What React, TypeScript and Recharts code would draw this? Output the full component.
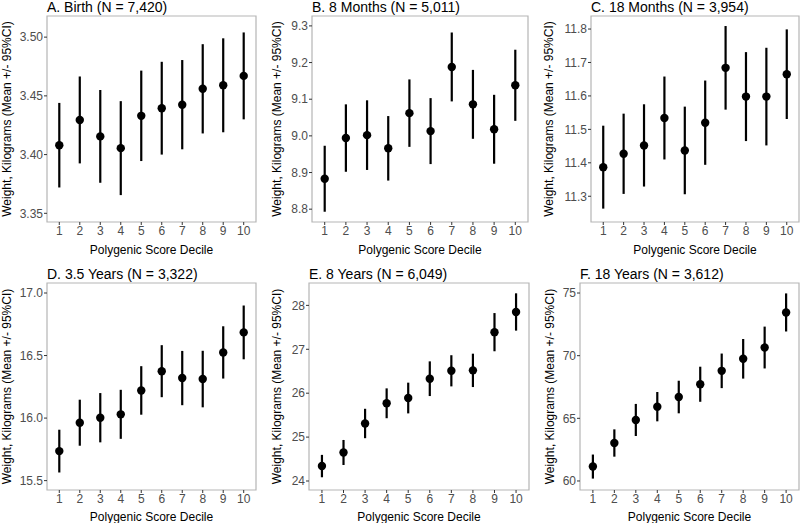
import { ScatterChart, Scatter, XAxis, YAxis, ErrorBar, ReferenceArea } from 'recharts';

const FONT = '"Liberation Sans", Arial, sans-serif';
const Y_TITLE = 'Weight, Kilograms (Mean +/- 95%CI)';
const X_TITLE = 'Polygenic Score Decile';

const deciles = [1, 2, 3, 4, 5, 6, 7, 8, 9, 10];

// A. Birth
const birthMean = [3.408, 3.4295, 3.4155, 3.4055, 3.433, 3.4395, 3.4425, 3.456, 3.459, 3.467];
const birthCi = [0.036, 0.037, 0.0395, 0.04, 0.0385, 0.0395, 0.038, 0.038, 0.04, 0.037];
const birthTicks = [3.35, 3.4, 3.45, 3.5];

// B. 8 months
const m8Mean = [8.883, 8.994, 9.002, 8.966, 9.062, 9.013, 9.188, 9.086, 9.018, 9.138];
const m8Ci = [0.09, 0.092, 0.095, 0.088, 0.092, 0.09, 0.094, 0.094, 0.094, 0.097];
const m8Ticks = [8.8, 8.9, 9.0, 9.1, 9.2, 9.3];

// C. 18 months
const m18Mean = [11.387, 11.427, 11.452, 11.534, 11.437, 11.52, 11.684, 11.598, 11.598, 11.665];
const m18Ci = [0.124, 0.12, 0.123, 0.124, 0.131, 0.126, 0.125, 0.133, 0.146, 0.134];
const m18Ticks = [11.3, 11.4, 11.5, 11.6, 11.7, 11.8];

// D. 3.5 years
const y35Mean = [15.736, 15.963, 16.003, 16.03, 16.221, 16.375, 16.32, 16.312, 16.525, 16.685];
const y35Ci = [0.171, 0.184, 0.197, 0.196, 0.194, 0.208, 0.217, 0.226, 0.209, 0.215];
const y35Ticks = [15.5, 16.0, 16.5, 17.0];

// E. 8 years
const y8Mean = [24.34, 24.65, 25.31, 25.77, 25.89, 26.33, 26.51, 26.52, 27.39, 27.85];
const y8Ci = [0.255, 0.285, 0.335, 0.34, 0.35, 0.395, 0.355, 0.38, 0.435, 0.425];
const y8Ticks = [24, 25, 26, 27, 28];

// F. 18 years
const y18Mean = [61.15, 63.03, 64.87, 65.93, 66.7, 67.72, 68.79, 69.75, 70.65, 73.45];
const y18Ci = [0.96, 1.09, 1.28, 1.17, 1.3, 1.4, 1.38, 1.58, 1.67, 1.52];
const y18Ticks = [60, 65, 70, 75];

const rows = (mean: number[], ci: number[]) =>
  deciles.map((d, i) => ({ decile: d, mean: mean[i], ci: ci[i] }));

const Dot = (p: any) => <circle cx={p.cx} cy={p.cy} r={4.2} fill="#000" />;

function Panel({ title, mean, ci, ticks, domain, digits, left, top, width, height, box, yTitleX, titleY, xTitleOffset }: any) {
  return (
    <>
      <div
        style={{
          position: 'absolute', left: box.l, top: titleY - 8, fontSize: 14, lineHeight: '16px',
          fontFamily: FONT, color: '#000', whiteSpace: 'nowrap',
        }}
      >
        {title}
      </div>
      <div style={{ position: 'absolute', left, top }}>
        <ScatterChart
          width={width}
          height={height}
          margin={{ top: box.t - top, right: left + width - box.r, left: 0, bottom: 0 }}
        >
          <XAxis
            type="number"
            dataKey="decile"
            domain={[0.4, 10.6]}
            ticks={deciles}
            allowDataOverflow
            axisLine={false}
            tickSize={3}
            tickMargin={1}
            tickLine={{ stroke: '#333' }}
            tick={{ fontSize: 12, fill: '#4d4d4d', fontFamily: FONT }}
            height={top + height - box.b}
            label={{ value: X_TITLE, position: 'insideBottom', offset: xTitleOffset, fill: '#000', fontSize: 12, fontFamily: FONT }}
          />
          <YAxis
            type="number"
            dataKey="mean"
            domain={domain}
            ticks={ticks}
            allowDataOverflow
            axisLine={false}
            tickSize={3}
            tickMargin={1}
            tickLine={{ stroke: '#333' }}
            tick={{ fontSize: 12, fill: '#4d4d4d', fontFamily: FONT }}
            tickFormatter={(v: number) => v.toFixed(digits)}
            width={box.l - left}
            label={{
              value: Y_TITLE, angle: -90, position: 'insideLeft', offset: yTitleX - left,
              fill: '#000', fontSize: 12, fontFamily: FONT, style: { textAnchor: 'middle' },
            }}
          />
          <ReferenceArea
            x1={0.4} x2={10.6} y1={domain[0]} y2={domain[1]}
            fill="none" stroke="#b5b5b5" strokeWidth={1.2}
          />
          <Scatter data={rows(mean, ci)} shape={Dot} isAnimationActive={false}>
            <ErrorBar dataKey="ci" direction="y" width={0} stroke="#000" strokeWidth={2.2} />
          </Scatter>
        </ScatterChart>
      </div>
    </>
  );
}

export default function App() {
  return (
    <div style={{ position: 'absolute', left: 0, top: 0, width: 800, height: 523, background: '#fff', overflow: 'hidden' }}>
      <Panel title="A. Birth (N = 7,420)" mean={birthMean} ci={birthCi} ticks={birthTicks}
        domain={[3.3426, 3.518]} digits={2} left={0} top={0} width={265} height={260}
        box={{ l: 47, r: 256, t: 16, b: 222 }} yTitleX={7} titleY={7} xTitleOffset={6.5} />
      <Panel title="B. 8 Months (N = 5,011)" mean={m8Mean} ci={m8Ci} ticks={m8Ticks}
        domain={[8.765, 9.327]} digits={1} left={265} top={0} width={268} height={260}
        box={{ l: 312, r: 528, t: 16, b: 222 }} yTitleX={277} titleY={7} xTitleOffset={6.5} />
      <Panel title="C. 18 Months (N = 3,954)" mean={m18Mean} ci={m18Ci} ticks={m18Ticks}
        domain={[11.223, 11.839]} digits={1} left={533} top={0} width={267} height={260}
        box={{ l: 591, r: 799, t: 16, b: 222 }} yTitleX={549} titleY={7} xTitleOffset={6.5} />
      <Panel title="D. 3.5 Years (N = 3,322)" mean={y35Mean} ci={y35Ci} ticks={y35Ticks}
        domain={[15.425, 17.08]} digits={1} left={0} top={260} width={265} height={263}
        box={{ l: 47, r: 256, t: 283, b: 490 }} yTitleX={7} titleY={273.5} xTitleOffset={1.7} />
      <Panel title="E. 8 Years (N = 6,049)" mean={y8Mean} ci={y8Ci} ticks={y8Ticks}
        domain={[23.795, 28.51]} digits={0} left={265} top={260} width={268} height={263}
        box={{ l: 309, r: 529, t: 283, b: 490 }} yTitleX={277} titleY={273.5} xTitleOffset={1.7} />
      <Panel title="F. 18 Years (N = 3,612)" mean={y18Mean} ci={y18Ci} ticks={y18Ticks}
        domain={[59.28, 75.8]} digits={0} left={533} top={260} width={267} height={263}
        box={{ l: 580, r: 799, t: 283, b: 490 }} yTitleX={550} titleY={273.5} xTitleOffset={1.7} />
    </div>
  );
}
